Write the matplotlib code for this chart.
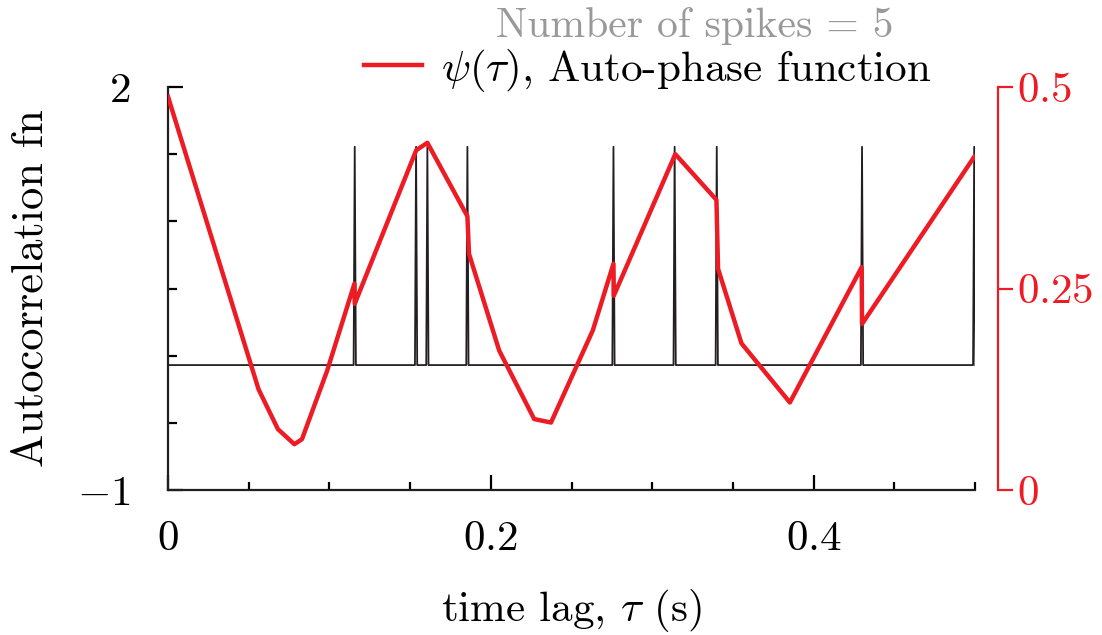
import matplotlib
matplotlib.use('Agg')
import matplotlib.pyplot as plt
from matplotlib.ticker import MultipleLocator

plt.rcParams['font.family'] = 'serif'
plt.rcParams['font.serif'] = ['cmr10']
plt.rcParams['mathtext.fontset'] = 'cm'
plt.rcParams['axes.unicode_minus'] = False
plt.rcParams['font.size'] = 31

RED = '#ed1c24'
GREY = '#999999'

# lags (s) where the autocorrelation spikes
spike_t = [0.1157, 0.1537, 0.1607, 0.1855, 0.2760, 0.3139, 0.3400, 0.4300, 0.4995]
spike_base = -0.07
spike_peak = 1.555
n_spikes = 5

# auto-phase function psi(tau)
psi_t = [0.0, 0.0561, 0.0681, 0.0783, 0.0830, 0.0986, 0.1155, 0.1157, 0.1538,
         0.1607, 0.1855, 0.1865, 0.2052, 0.2269, 0.2373, 0.2632, 0.2760, 0.2762,
         0.3143, 0.3398, 0.3408, 0.3553, 0.3853, 0.4298, 0.4300, 0.4995]
psi_v = [0.488, 0.125, 0.0755, 0.0568, 0.063, 0.148, 0.256, 0.231, 0.4216,
         0.4308, 0.3396, 0.293, 0.173, 0.088, 0.0837, 0.198, 0.2807, 0.241,
         0.4167, 0.360, 0.2745, 0.182, 0.1086, 0.2765, 0.206, 0.4133]

# spike train as thin triangles on a flat baseline
w = 0.0007
ac_t = [0.0]
ac_v = [spike_base]
for t in spike_t:
    ac_t += [t - w, t, t + w]
    ac_v += [spike_base, spike_peak, spike_base]

fig = plt.figure(figsize=(11.02, 6.35), dpi=100)
ax = fig.add_axes([168 / 1102, 1 - 490 / 635, 807 / 1102, 403 / 635])
ax.plot(ac_t, ac_v, color='#231f20', lw=1.3)
ax.set_xlim(0, 0.5)
ax.set_ylim(-1, 2)
for s in ['top', 'right']:
    ax.spines[s].set_visible(False)
for s in ['left', 'bottom']:
    ax.spines[s].set_linewidth(1.6)
    ax.spines[s].set_color('#231f20')
ax.set_yticks([-1, 2])
ax.set_yticklabels(['$-1$', '$2$'])
ax.yaxis.set_minor_locator(MultipleLocator(0.5))
ax.set_xticks([0, 0.2, 0.4])
ax.set_xticklabels(['$0$', '$0.2$', '$0.4$'])
ax.xaxis.set_minor_locator(MultipleLocator(0.05))
ax.tick_params(axis='y', which='major', direction='in', length=11, width=1.6, pad=27)
ax.tick_params(axis='y', which='minor', direction='in', length=6.5, width=1.6)
ax.tick_params(axis='x', which='major', direction='in', length=11, width=1.6, pad=22)
ax.tick_params(axis='x', which='minor', direction='in', length=6, width=1.6)
ax.set_xlabel(r'time lag, $\tau$ (s)')
ax.xaxis.set_label_coords(0.5, -0.24)
fig.text(31 / 1102, 1 - 288 / 635, 'Autocorrelation fn', rotation=90,
         ha='center', va='center', fontsize=32)

ax2 = ax.twinx()
line, = ax2.plot(psi_t, psi_v, color=RED, lw=3.2)
ax2.set_ylim(0, 0.5)
for s in ['top', 'left', 'bottom']:
    ax2.spines[s].set_visible(False)
ax2.spines['right'].set_position(('outward', 16.5))
ax2.spines['right'].set_color(RED)
ax2.spines['right'].set_linewidth(1.6)
ax2.set_yticks([0, 0.25, 0.5])
ax2.set_yticklabels(['$0$', '$0.25$', '$0.5$'])
ax2.tick_params(axis='y', direction='out', length=11, width=1.6, pad=3,
                colors=RED, labelcolor=RED)

fig.legend([line], [r'$\psi(\tau)$, Auto-phase function'], loc='center',
           bbox_to_anchor=(648 / 1102, 1 - 70 / 635), frameon=False,
           handlelength=1.33, handletextpad=0.46)
fig.text(695 / 1102, 1 - 26 / 635, 'Number of spikes = %d' % n_spikes,
         color=GREY, ha='center', va='center', fontsize=30)

fig.savefig('out.png', dpi=100)
